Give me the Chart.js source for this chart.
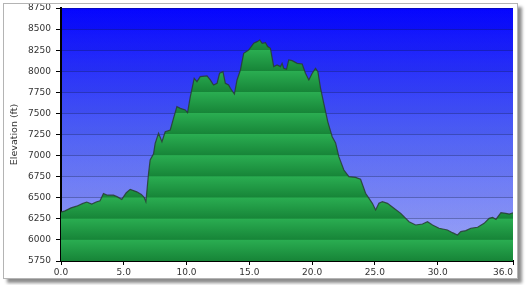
<!DOCTYPE html>
<html>
<head>
<meta charset="utf-8">
<script src="https://cdn.jsdelivr.net/npm/chart.js@4.4.0/dist/chart.umd.min.js"></script>
<style>
    html, body { margin: 0; padding: 0; background: #fff; }
    #frame {
        position: absolute; left: 3px; top: 3px;
        width: 513px; height: 274px;
        border: 1px solid #b4b4b4;
        box-shadow: 4px 4px 3px rgba(0, 0, 0, 0.45);
        background: #fff;
    }
    canvas { display: block; }
</style>
</head>
<body>
<div id="frame"><canvas id="elevationChart" width="513" height="274"></canvas></div>
<script>
// distance along the route (mi) and elevation (ft)
const distance = [
    0.0, 0.32, 0.8, 1.25, 1.7, 2.05, 2.45, 2.8, 3.11, 3.38, 3.7, 4.18, 4.5, 4.84, 5.2, 5.51,
    6.04, 6.4, 6.62, 6.76, 6.97, 7.1, 7.37, 7.5, 7.77, 8.04, 8.3, 8.7, 8.96, 9.23, 9.5, 9.9,
    10.08, 10.3, 10.61, 10.83, 11.09, 11.63, 11.89, 12.15, 12.43, 12.63, 12.9, 13.09, 13.35,
    13.49, 13.81, 14.02, 14.29, 14.55, 14.95, 15.35, 15.62, 15.83, 16.02, 16.28, 16.46, 16.68,
    16.94, 17.21, 17.48, 17.61, 17.74, 17.96, 18.14, 18.41, 18.81, 19.21, 19.47, 19.74, 20.01,
    20.27, 20.46, 20.67, 20.93, 21.25, 21.6, 21.87, 22.13, 22.53, 22.93, 23.46, 23.86, 24.26,
    24.8, 25.06, 25.32, 25.6, 26.0, 26.52, 27.06, 27.32, 27.72, 28.25, 28.79, 29.19, 29.59,
    30.11, 30.78, 31.18, 31.58, 31.84, 32.24, 32.64, 33.18, 33.7, 34.1, 34.37, 34.64, 35.04,
    35.43, 35.7, 36.0
];
const elevation = [
    6330, 6345, 6380, 6400, 6430, 6449, 6426, 6450, 6465, 6550, 6530, 6530, 6510, 6480, 6560, 6600,
    6570, 6540, 6505, 6453, 6785, 6948, 7020, 7146, 7265, 7165, 7283, 7303, 7442, 7580, 7560, 7541,
    7509, 7698, 7917, 7877, 7936, 7944, 7897, 7837, 7857, 7976, 7995, 7857, 7837,
    7798, 7730, 7897, 8015, 8213, 8252, 8332, 8351, 8371, 8332, 8339, 8292, 8272,
    8055, 8074, 8055, 8094, 8035, 8023, 8134, 8126, 8094, 8086, 7976, 7897, 7976,
    8035, 7995, 7800, 7620, 7400, 7224, 7150, 6987, 6829, 6750, 6742, 6719, 6553,
    6434, 6355, 6434, 6453, 6434, 6375, 6315, 6276, 6216, 6177, 6189, 6216, 6177,
    6138, 6118, 6086, 6058, 6098, 6110, 6138, 6150, 6197, 6256, 6268, 6244, 6323,
    6315, 6307, 6320
];
const xTickValues = [0, 5, 10, 15, 20, 25, 30, 36];
const yMin = 5750;
const yMax = 8750;
const yStep = 250;

const textColor = '#333';
const fontFamily = '"DejaVu Sans", Verdana, sans-serif';

// one colour stop pair per 250 ft band, light at the top of the band, dark at the bottom
function bandGradient(chart, light, dark) {
    const area = chart.chartArea;
    if (!area) return light;
    const yScale = chart.scales.y;
    const h = area.bottom - area.top;
    const g = chart.ctx.createLinearGradient(0, area.top, 0, area.bottom);
    for (let v = yMax; v > yMin; v -= yStep) {
        const a = (yScale.getPixelForValue(v) - area.top) / h;
        const b = (yScale.getPixelForValue(v - yStep) - area.top) / h;
        g.addColorStop(Math.min(Math.max(a, 0), 1), light);
        g.addColorStop(Math.min(Math.max(b - 0.002, 0), 1), dark);
    }
    return g;
}

const skyBackground = {
    id: 'skyBackground',
    beforeDraw(chart) {
        const { ctx, chartArea: area } = chart;
        if (!area) return;
        ctx.save();
        const sky = ctx.createLinearGradient(0, area.top, 0, area.bottom);
        sky.addColorStop(0, '#0000ff');
        sky.addColorStop(0.5, '#4d5ff6');
        sky.addColorStop(1, '#a4acf8');
        ctx.fillStyle = sky;
        ctx.fillRect(area.left, area.top, area.right - area.left, area.bottom - area.top);
        ctx.fillStyle = bandGradient(chart, 'rgba(255,255,255,0.02)', 'rgba(0,0,40,0.035)');
        ctx.fillRect(area.left, area.top, area.right - area.left, area.bottom - area.top);
        ctx.restore();
    }
};

const ctx = document.getElementById('elevationChart').getContext('2d');

const profile = distance.map((d, i) => ({ x: d, y: elevation[i] }));

const chart = new Chart(ctx, {
    type: 'line',
    data: {
        datasets: [{
            label: 'Elevation',
            data: profile,
            borderColor: 'rgba(40, 60, 50, 0.85)',
            borderWidth: 1.2,
            pointRadius: 0,
            tension: 0,
            fill: 'start',
            backgroundColor: (context) => bandGradient(context.chart, '#2aad51', '#178538')
        }]
    },
    options: {
        responsive: false,
        animation: false,
        layout: { padding: { left: 4, right: 4, top: 4, bottom: 0 } },
        plugins: {
            legend: { display: false },
            tooltip: { enabled: false }
        },
        scales: {
            x: {
                type: 'linear',
                min: 0,
                max: 36,
                z: 1,
                afterBuildTicks: (scale) => {
                    scale.ticks = xTickValues.map(v => ({ value: v }));
                },
                afterFit: (scale) => {
                    scale.height = 17;
                    scale.paddingLeft = 0;
                    scale.paddingRight = 0;
                },
                ticks: {
                    color: textColor,
                    font: { family: fontFamily, size: 9 },
                    padding: 2,
                    maxRotation: 0,
                    autoSkip: false,
                    // the last label sits left of its tick, as in the original
                    callback: (v) => v === 36 ? v.toFixed(1) + '       ' : v.toFixed(1)
                },
                grid: {
                    drawOnChartArea: false,
                    tickLength: 4,
                    tickColor: '#000'
                },
                border: { color: '#000', width: 2 }
            },
            y: {
                min: yMin,
                max: yMax,
                z: 1,
                afterFit: (scale) => {
                    scale.width = 53;
                    scale.paddingTop = 0;
                    scale.paddingBottom = 0;
                },
                ticks: {
                    stepSize: yStep,
                    color: textColor,
                    font: { family: fontFamily, size: 9 },
                    padding: 5,
                    callback: (v) => String(v)
                },
                grid: {
                    color: 'rgba(10, 20, 50, 0.3)',
                    lineWidth: 1,
                    tickLength: 5,
                    tickColor: '#000'
                },
                border: { color: '#000', width: 2 },
                title: {
                    display: true,
                    text: 'Elevation (ft)',
                    color: textColor,
                    font: { family: fontFamily, size: 9.5 },
                    padding: { top: 1, bottom: 0 }
                }
            }
        }
    },
    plugins: [skyBackground]
});
</script>
</body>
</html>
